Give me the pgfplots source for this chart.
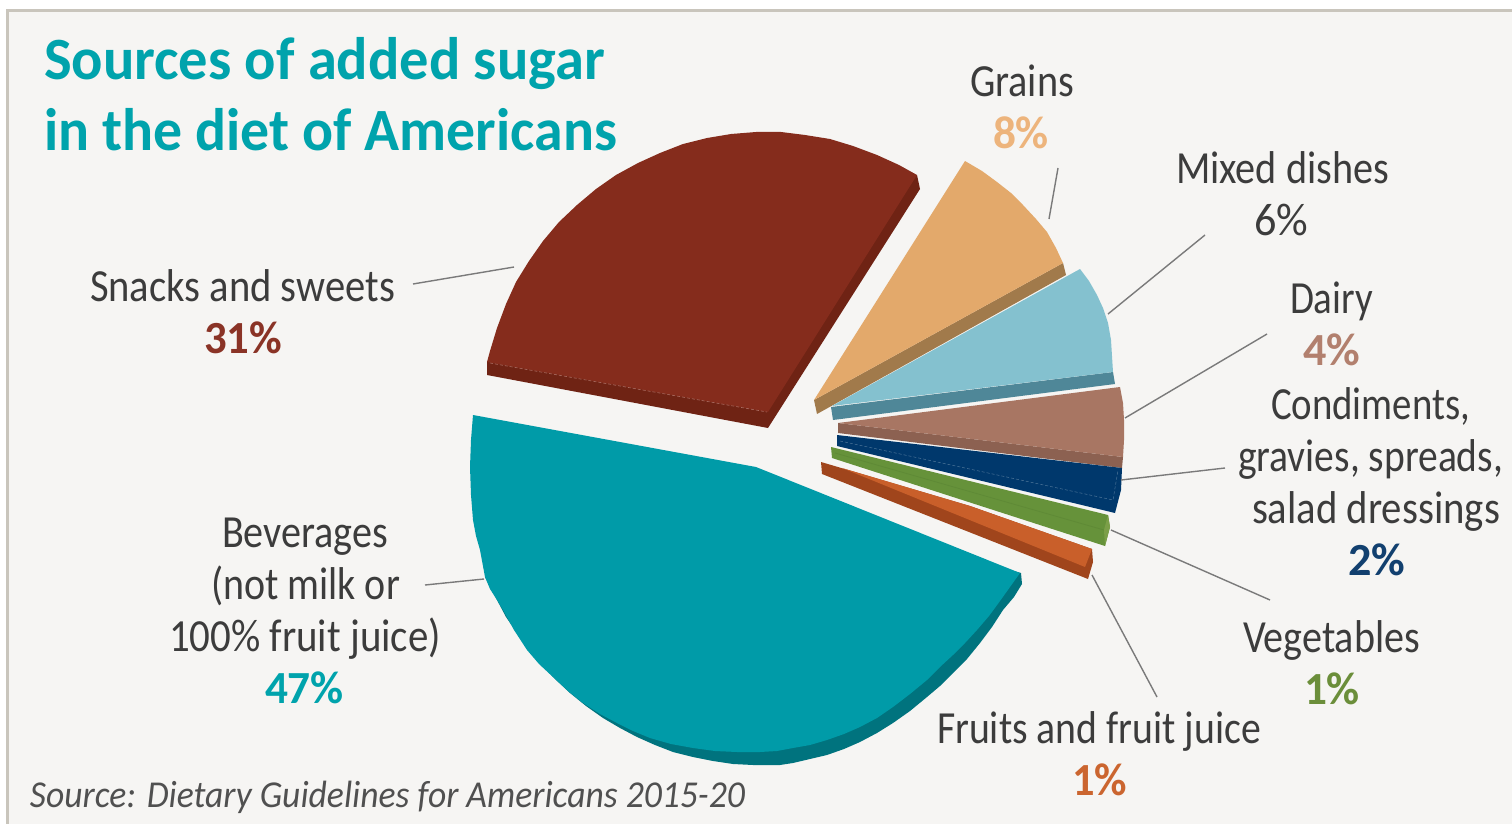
\documentclass[border=0pt]{standalone}
\usepackage{pgfplots}
\pgfplotsset{compat=1.18}
\usepackage{graphicx}
\usepackage{fontspec}
\setmainfont{Carlito}
\definecolor{bgpanel}{HTML}{F6F5F3}
\definecolor{rulegray}{HTML}{C9C5BC}
\definecolor{inkgray}{HTML}{3C3C3C}
\definecolor{leader}{HTML}{7A7A7A}
\definecolor{titleteal}{HTML}{00A3AC}
\definecolor{bevtop}{HTML}{009BA8}
\definecolor{bevside}{HTML}{00737E}
\definecolor{snacktop}{HTML}{852C1C}
\definecolor{snackside}{HTML}{6F2314}
\definecolor{snacktext}{HTML}{8A3326}
\definecolor{graintop}{HTML}{E3A96B}
\definecolor{grainside}{HTML}{A17A4B}
\definecolor{graintext}{HTML}{EDB47C}
\definecolor{mixtop}{HTML}{84C1CF}
\definecolor{mixside}{HTML}{4F8798}
\definecolor{dairytop}{HTML}{A87663}
\definecolor{dairyside}{HTML}{8C6151}
\definecolor{dairytext}{HTML}{B2806E}
\definecolor{condtop}{HTML}{00386C}
\definecolor{condtext}{HTML}{12406F}
\definecolor{vegtop}{HTML}{66923A}
\definecolor{vegside}{HTML}{5F8A36}
\definecolor{vegend}{HTML}{7B9F48}
\definecolor{vegtext}{HTML}{6B8E3A}
\definecolor{fruittop}{HTML}{C95F2A}
\definecolor{fruitside}{HTML}{A0451C}
\definecolor{fruittext}{HTML}{CB652F}

% one line of text: left edge, right edge, baseline, size, colour, text
\newcommand{\lineat}[6]{%
  \node[anchor=base west,inner sep=0pt,outer sep=0pt,text=#5] at (axis cs:#1,#3)
    {\pgfmathsetmacro{\lineW}{#2-#1}\resizebox{\lineW pt}{\height}{\fontsize{#4}{#4}\selectfont #6}};%
}

\begin{document}
\begin{tikzpicture}
\begin{axis}[
  hide axis, scale only axis, width=1512pt, height=824pt,
  xmin=0, xmax=1512, ymin=0, ymax=824, y dir=reverse,
  every axis plot/.append style={forget plot, mark=none},
]
% panel and its rules
\addplot[fill=white,draw=none] coordinates {(0,0)(1512,0)(1512,824)(0,824)} -- cycle;
\addplot[fill=bgpanel,draw=none] coordinates {(8,11)(1512,11)(1512,824)(8,824)} -- cycle;
\addplot[draw=rulegray,line width=3pt] coordinates {(7,824)(7,11)(1512,11)};

% Snacks and sweets
\addplot[fill=snackside,draw=none] coordinates {(487,362)(487,375)(768,428)(920,189)(917,175)} -- cycle;
\addplot[fill=snacktop,draw=none] coordinates {(487,362)(490,351)(497,328)(506,304)(516,282)(529,261)(543,241)(559,222)(577,205)(596,189)(616,175)(638,163)(660,153)(683,144)(707,138)(731,134)(756,132)(781,132)(805,135)(830,139)(853,146)(877,155)(899,165)(917,175)(768,412)} -- cycle;
\addplot[draw=snacktop!70!white,line width=0.6pt,densely dashed] coordinates {(490,363)(767,412)};

% Beverages
\addplot[fill=bevside,draw=none] coordinates {(485,577)(497,600)(506,617)(517,633)(528,649)(540,663)(555,679)(570,693)(586,706)(603,718)(620,728)(637,737)(655,745)(673,752)(693,757)(713,761)(733,764)(753,765)(780,765)(793,763)(810,759)(827,755)(844,749)(860,742)(877,733)(893,723)(910,711)(927,697)(940,686)(953,673)(967,659)(980,643)(992,627)(1003,610)(1014,597)(1022,584)(1021,573)(756,500)} -- cycle;
\addplot[fill=bevtop,draw=none] coordinates {(473,415)(471,440)(470,467)(471,495)(473,520)(476,536)(480,550)(485,577)(490,589)(497,600)(503,610)(514,630)(527,650)(539,664)(553,677)(568,691)(583,703)(600,714)(617,723)(633,731)(650,738)(671,744)(693,748)(715,751)(737,752)(760,752)(777,751)(793,748)(810,745)(827,740)(844,734)(860,727)(877,718)(893,707)(910,694)(927,680)(940,667)(953,655)(965,643)(977,630)(989,616)(1000,601)(1010,587)(1020,573)(756,467)} -- cycle;

% Grains
\addplot[fill=grainside,draw=none] coordinates {(814,400)(817,414)(1066,275)(1063,263)} -- cycle;
\addplot[fill=graintop,draw=none] coordinates {(814,400)(965,161)(982,171)(997,182)(1011,193)(1023,205)(1036,219)(1047,232)(1056,248)(1063,263)} -- cycle;

% Mixed dishes
\addplot[fill=mixside,draw=none] coordinates {(831,407)(833,420)(1115,384)(1113,372)} -- cycle;
\addplot[fill=mixtop,draw=none] coordinates {(832,406)(1080,269)(1089,281)(1097,295)(1103,308)(1108,323)(1111,340)(1113,372)} -- cycle;

% Dairy
\addplot[fill=dairyside,draw=none] coordinates {(838,423)(838,433)(1122,468)(1123,457)} -- cycle;
\addplot[fill=dairytop,draw=none] coordinates {(838,423)(1120,387)(1123,403)(1124,420)(1124,440)(1123,457)} -- cycle;

% Condiments, gravies, spreads, salad dressings
\addplot[fill=condtop,draw=none] coordinates {(837,435)(1122,468)(1121,490)(1115,513)(837,446)} -- cycle;
\addplot[draw=condtop!70!white,line width=0.5pt,densely dashed] coordinates {(840,441)(1113,500)(1118,470)};

% Vegetables
\addplot[fill=vegtop,draw=none] coordinates {(831,447)(1108,515)(1110,527)(1105,546)(832,458)} -- cycle;
\addplot[fill=vegend,draw=none] coordinates {(1108,515)(1110,527)(1105,546)(1104,530)} -- cycle;
\addplot[draw=vegside,line width=0.8pt] coordinates {(835,453)(1104,530)};

% Fruits and fruit juice
\addplot[fill=fruitside,draw=none] coordinates {(821,462)(822,474)(1088,579)(1093,562)(1092,549)(970,506)} -- cycle;
\addplot[fill=fruittop,draw=none] coordinates {(842,468)(970,506)(1092,549)(1085,567)} -- cycle;

% leader lines
\addplot[draw=leader,line width=1.4pt] coordinates {(413,284)(514,267)};
\addplot[draw=leader,line width=1.4pt] coordinates {(425,585)(484,579)};
\addplot[draw=leader,line width=1.4pt] coordinates {(1058,168)(1049,219)};
\addplot[draw=leader,line width=1.4pt] coordinates {(1205,235)(1108,314)};
\addplot[draw=leader,line width=1.4pt] coordinates {(1267,334)(1125,418)};
\addplot[draw=leader,line width=1.4pt] coordinates {(1225,468)(1121,480)};
\addplot[draw=leader,line width=1.4pt] coordinates {(1270,600)(1111,530)};
\addplot[draw=leader,line width=1.4pt] coordinates {(1157,697)(1092,575)};

% title
\lineat{44}{605}{80}{60}{titleteal}{\bfseries Sources of added sugar}
\lineat{44}{617}{150}{60}{titleteal}{\bfseries in the diet of Americans}

% labels and shares
\lineat{90}{395}{301}{46}{inkgray}{Snacks and sweets}
\lineat{204}{282}{353}{46}{snacktext}{\bfseries 31\%}
\lineat{222}{388}{547}{46}{inkgray}{Beverages}
\lineat{211}{400}{599}{46}{inkgray}{(not milk or}
\lineat{169}{441}{651}{46}{inkgray}{100\% fruit juice)}
\lineat{265}{344}{703}{46}{titleteal}{\bfseries 47\%}
\lineat{970}{1074}{97}{46}{inkgray}{Grains}
\lineat{993}{1049}{149}{46}{graintext}{\bfseries 8\%}
\lineat{1176}{1389}{183}{46}{inkgray}{Mixed dishes}
\lineat{1254}{1308}{235}{46}{inkgray}{6\%}
\lineat{1290}{1373}{313}{46}{inkgray}{Dairy}
\lineat{1303}{1360}{365}{46}{dairytext}{\bfseries 4\%}
\lineat{1271}{1470}{419}{46}{inkgray}{Condiments,}
\lineat{1238}{1503}{471}{46}{inkgray}{gravies, spreads,}
\lineat{1252}{1500}{523}{46}{inkgray}{salad dressings}
\lineat{1348}{1405}{575}{46}{condtext}{\bfseries 2\%}
\lineat{1243}{1420}{652}{46}{inkgray}{Vegetables}
\lineat{1304}{1360}{704}{46}{vegtext}{\bfseries 1\%}
\lineat{937}{1261}{743}{46}{inkgray}{Fruits and fruit juice}
\lineat{1072}{1127}{795}{46}{fruittext}{\bfseries 1\%}
\lineat{30}{745}{807}{38}{inkgray!90!white}{\itshape Source: Dietary Guidelines for Americans 2015-20}
\end{axis}
\end{tikzpicture}
\end{document}
